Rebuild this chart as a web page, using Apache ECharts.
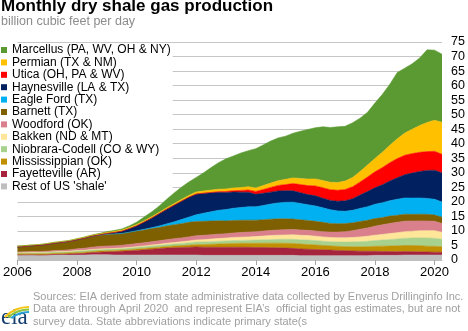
<!DOCTYPE html>
<html><head><meta charset="utf-8">
<script src="https://cdn.jsdelivr.net/npm/echarts@6/dist/echarts.min.js"></script>
<style>html,body{margin:0;padding:0;background:#fff}#c{width:468px;height:331px}</style>
</head><body><div id="c"></div>
<script>
const dates = ['2006-01','2006-04','2006-07','2006-10','2007-01','2007-04','2007-07','2007-10',
 '2008-01','2008-04','2008-07','2008-10','2009-01','2009-04','2009-07','2009-10',
 '2010-01','2010-04','2010-07','2010-10','2011-01','2011-04','2011-07','2011-10',
 '2012-01','2012-04','2012-07','2012-10','2013-01','2013-04','2013-07','2013-10',
 '2014-01','2014-04','2014-07','2014-10','2015-01','2015-04','2015-07','2015-10',
 '2016-01','2016-04','2016-07','2016-10','2017-01','2017-04','2017-07','2017-10',
 '2018-01','2018-04','2018-07','2018-10','2019-01','2019-04','2019-07','2019-10',
 '2020-01','2020-04'];
const xTickYears = ['2006','2008','2010','2012','2014','2016','2018','2020'];

const rest = [1.7,1.7,1.7,1.6, 1.6,1.7,1.7,1.7, 1.7,1.7,1.8,1.8, 1.8,1.7,1.7,1.7, 1.7,1.7,1.7,1.7, 1.7,1.7,1.7,1.7, 1.7,1.6,1.6,1.6, 1.6,1.6,1.6,1.6, 1.6,1.6,1.6,1.6, 1.6,1.6,1.5,1.5, 1.5,1.5,1.5,1.5, 1.5,1.5,1.5,1.5, 1.6,1.6,1.6,1.6, 1.7,1.7,1.7,1.7, 1.7,1.7];
const fayetteville = [0.05,0.07,0.1,0.15, 0.2,0.25,0.3,0.4, 0.5,0.6,0.75,0.9, 1.0,1.15,1.3,1.45, 1.6,1.8,2.0,2.2, 2.4,2.5,2.6,2.7, 2.8,2.8,2.8,2.8, 2.8,2.8,2.8,2.75, 2.7,2.7,2.65,2.6, 2.5,2.4,2.3,2.2, 2.1,2.0,1.9,1.8, 1.7,1.6,1.55,1.5, 1.4,1.35,1.3,1.25, 1.2,1.15,1.1,1.05, 1.0,0.95];
const mississippian = [0.35,0.35,0.35,0.35, 0.35,0.35,0.35,0.35, 0.4,0.4,0.4,0.4, 0.4,0.4,0.4,0.4, 0.45,0.45,0.5,0.5, 0.55,0.6,0.65,0.7, 0.8,0.9,1.0,1.1, 1.2,1.3,1.35,1.4, 1.45,1.5,1.55,1.6, 1.65,1.7,1.7,1.65, 1.6,1.5,1.45,1.4, 1.4,1.45,1.5,1.6, 1.7,1.8,1.9,2.0, 2.1,2.1,2.1,2.0, 2.0,1.9];
const niobrara = [0.45,0.45,0.45,0.45, 0.5,0.5,0.5,0.5, 0.55,0.55,0.55,0.55, 0.55,0.55,0.55,0.55, 0.6,0.6,0.6,0.6, 0.65,0.7,0.75,0.8, 0.85,0.9,0.9,0.95, 0.95,1.0,1.0,1.05, 1.1,1.15,1.2,1.3, 1.35,1.4,1.45,1.5, 1.5,1.45,1.45,1.5, 1.55,1.65,1.75,1.85, 2.0,2.1,2.25,2.4, 2.5,2.6,2.7,2.8, 2.8,2.6];
const bakken = [0.05,0.05,0.05,0.05, 0.05,0.05,0.05,0.05, 0.08,0.1,0.12,0.14, 0.15,0.17,0.2,0.22, 0.25,0.3,0.35,0.4, 0.45,0.5,0.55,0.65, 0.75,0.8,0.9,0.95, 1.0,1.05,1.1,1.15, 1.2,1.3,1.4,1.45, 1.5,1.55,1.55,1.55, 1.5,1.5,1.45,1.45, 1.5,1.55,1.65,1.75, 1.85,1.95,2.05,2.15, 2.25,2.35,2.45,2.55, 2.6,2.4];
const woodford = [0.15,0.2,0.25,0.3, 0.35,0.4,0.45,0.5, 0.6,0.7,0.8,0.85, 0.9,0.9,0.95,1.0, 1.05,1.1,1.15,1.2, 1.25,1.3,1.35,1.4, 1.45,1.5,1.5,1.5, 1.5,1.55,1.6,1.65, 1.65,1.7,1.75,1.8, 1.85,1.85,1.85,1.8, 1.8,1.8,1.85,1.95, 2.1,2.35,2.6,2.85, 3.1,3.3,3.5,3.6, 3.6,3.5,3.4,3.3, 3.2,3.0];
const barnett = [1.7,1.85,2.0,2.15, 2.3,2.5,2.7,2.9, 3.1,3.4,3.7,3.9, 4.1,4.1,4.0,4.2, 4.3,4.4,4.5,4.6, 4.7,4.8,4.9,5.0, 4.9,4.8,4.7,4.6, 4.4,4.3,4.2,4.1, 4.0,3.9,3.9,3.8, 3.7,3.6,3.5,3.4, 3.3,3.2,3.0,2.9, 2.8,2.7,2.7,2.6, 2.6,2.5,2.5,2.4, 2.4,2.3,2.3,2.3, 2.2,2.2];
const eagleFord = [0,0,0,0, 0,0,0,0, 0,0,0,0, 0,0,0,0.05, 0.1,0.2,0.3,0.5, 0.7,1.0,1.4,1.8, 2.3,2.8,3.2,3.6, 3.9,4.2,4.4,4.6, 4.6,4.9,5.2,5.5, 5.7,5.8,5.6,5.4, 5.3,5.0,4.7,4.4, 4.2,4.3,4.5,4.7, 4.9,5.1,5.3,5.5, 5.6,5.6,5.6,5.5, 5.4,5.2];
const haynesville = [0,0,0,0, 0,0,0,0, 0,0.02,0.05,0.1, 0.25,0.5,0.8,1.2, 1.7,2.5,3.3,4.2, 5.0,5.7,6.3,6.8, 7.1,6.8,6.5,6.2, 5.9,5.6,5.3,5.0, 4.3,4.2,4.1,4.1, 4.0,3.9,3.7,3.5, 3.5,3.3,3.2,3.3, 3.6,4.0,4.6,5.2, 5.7,6.2,6.8,7.4, 8.0,8.6,9.1,9.6, 10.0,10.0];
const utica = [0,0,0,0, 0,0,0,0, 0,0,0,0, 0,0,0,0, 0,0,0,0, 0,0,0,0, 0.05,0.1,0.15,0.2, 0.3,0.45,0.6,0.8, 1.0,1.3,1.6,1.9, 2.1,2.5,2.8,3.1, 3.4,3.6,3.7,3.8, 3.9,4.1,4.5,5.0, 5.5,5.9,6.3,6.6, 6.7,6.7,6.6,6.5, 6.5,6.4];
const permian = [0.3,0.3,0.3,0.3, 0.35,0.35,0.35,0.35, 0.4,0.4,0.4,0.4, 0.4,0.4,0.4,0.4, 0.45,0.45,0.45,0.45, 0.5,0.55,0.6,0.65, 0.7,0.75,0.8,0.85, 0.9,0.95,1.0,1.1, 1.2,1.35,1.5,1.65, 1.8,1.95,2.1,2.25, 2.4,2.5,2.55,2.65, 2.9,3.2,3.6,4.1, 4.6,5.3,6.0,6.8, 7.6,8.4,9.2,10.0, 10.7,11.0];
const marcellus = [0,0,0,0, 0,0,0,0, 0,0.02,0.05,0.1, 0.2,0.3,0.4,0.55, 0.8,1.3,1.65,2.15, 2.9,3.65,4.2,4.6, 5.0,6.25,7.75,9.15, 10.35,11.0,11.85,12.4, 13.5,14.0,14.45,14.7, 14.85,15.35,16.25,17.05, 17.6,18.45,18.85,19.15, 18.85,18.8,18.35,18.15, 19.05,19.9,21.0,22.8, 22.35,22.5,23.25,25.0, 24.1,23.45];

// bottom of stack first
const layers = [
  {name: "Rest of US 'shale'", data: rest, color: '#bfbfbf'},
  {name: 'Fayetteville (AR)', data: fayetteville, color: '#a5233c'},
  {name: 'Mississippian (OK)', data: mississippian, color: '#c09000'},
  {name: 'Niobrara-Codell (CO & WY)', data: niobrara, color: '#a9d18e'},
  {name: 'Bakken (ND & MT)', data: bakken, color: '#ffe699'},
  {name: 'Woodford (OK)', data: woodford, color: '#d9808c'},
  {name: 'Barnett (TX)', data: barnett, color: '#7f6000'},
  {name: 'Eagle Ford (TX)', data: eagleFord, color: '#00b0f0'},
  {name: 'Haynesville (LA & TX)', data: haynesville, color: '#002060'},
  {name: 'Utica (OH, PA & WV)', data: utica, color: '#ff0000'},
  {name: 'Permian (TX & NM)', data: permian, color: '#ffc000'},
  {name: 'Marcellus (PA, WV, OH & NY)', data: marcellus, color: '#5b9a33'}
];

const FONT = '"Liberation Sans", Arial, sans-serif';
const isTickCat = (idx, val) => xTickYears.indexOf(String(val).slice(0, 4)) >= 0 && String(val).slice(5) === '01';

const chart = echarts.init(document.getElementById('c'), null, {renderer: 'canvas'});
chart.setOption({
  animation: false,
  textStyle: {fontFamily: FONT},
  title: {
    text: 'Monthly dry shale gas production',
    subtext: 'billion cubic feet per day',
    left: 1, top: -2, padding: 0, itemGap: 0,
    textStyle: {fontFamily: FONT, fontSize: 17, fontWeight: 'bold', color: '#000'},
    subtextStyle: {fontFamily: FONT, fontSize: 12.5, color: '#8c8c8c'}
  },
  legend: {
    orient: 'vertical', left: 0, top: 43,
    padding: [1, 2, 0, 1],
    backgroundColor: '#ffffff',
    itemWidth: 6, itemHeight: 6, itemGap: 0.4, icon: 'rect',
    textStyle: {fontFamily: FONT, fontSize: 12, color: '#000', lineHeight: 12},
    data: layers.map(l => l.name).reverse()
  },
  grid: {left: 15, right: 26, top: 42, bottom: 71},
  xAxis: {
    type: 'category', data: dates, boundaryGap: false,
    splitLine: {show: false},
    axisLine: {show: true, lineStyle: {color: '#bfbfbf', width: 1}},
    axisTick: {show: true, length: 5, lineStyle: {color: '#a6a6a6'}, interval: isTickCat},
    axisLabel: {interval: isTickCat, margin: 6, fontSize: 13, color: '#000', fontFamily: FONT,
      formatter: v => v.slice(0, 4)}
  },
  yAxis: {
    type: 'value', position: 'right', min: 0, max: 75, interval: 5,
    axisLine: {show: false}, axisTick: {show: false},
    axisLabel: {margin: 9, fontSize: 12.5, color: '#000', fontFamily: FONT},
    splitLine: {show: true, lineStyle: {color: '#c6c6c6', width: 1.2}}
  },
  series: layers.map(l => ({
    type: 'line', name: l.name, stack: 'shale', symbol: 'none', showSymbol: false,
    lineStyle: {width: 0.6, color: l.color},
    itemStyle: {color: l.color},
    areaStyle: {color: l.color, opacity: 1},
    data: l.data
  })),
  graphic: [
    {type: 'text', left: 33, top: 291,
     style: {text: 'Sources: EIA derived from state administrative data collected by Enverus Drillinginfo Inc.\nData are through April 2020  and represent EIA\u2019s  official tight gas estimates, but are not\nsurvey data. State abbreviations indicate primary state(s',
       font: '11px "Liberation Sans", Arial, sans-serif', fill: '#a0a0a0', lineHeight: 12.3}},
    {type: 'text', left: 1, top: 306,
     style: {text: 'eia', font: '23px "Liberation Serif", "DejaVu Serif", serif', fill: '#123d6e'}},
    {type: 'arc', shape: {cx: 29, cy: 341, r: 34, startAngle: Math.PI * 1.25, endAngle: Math.PI * 1.5, clockwise: true},
     style: {stroke: '#f5c518', lineWidth: 2.2, fill: null}},
    {type: 'arc', shape: {cx: 29, cy: 341, r: 31.5, startAngle: Math.PI * 1.27, endAngle: Math.PI * 1.5, clockwise: true},
     style: {stroke: '#8cc63f', lineWidth: 2.2, fill: null}},
    {type: 'arc', shape: {cx: 29, cy: 341, r: 29, startAngle: Math.PI * 1.29, endAngle: Math.PI * 1.5, clockwise: true},
     style: {stroke: '#29a0d8', lineWidth: 2.2, fill: null}}
  ]
});
</script></body></html>
